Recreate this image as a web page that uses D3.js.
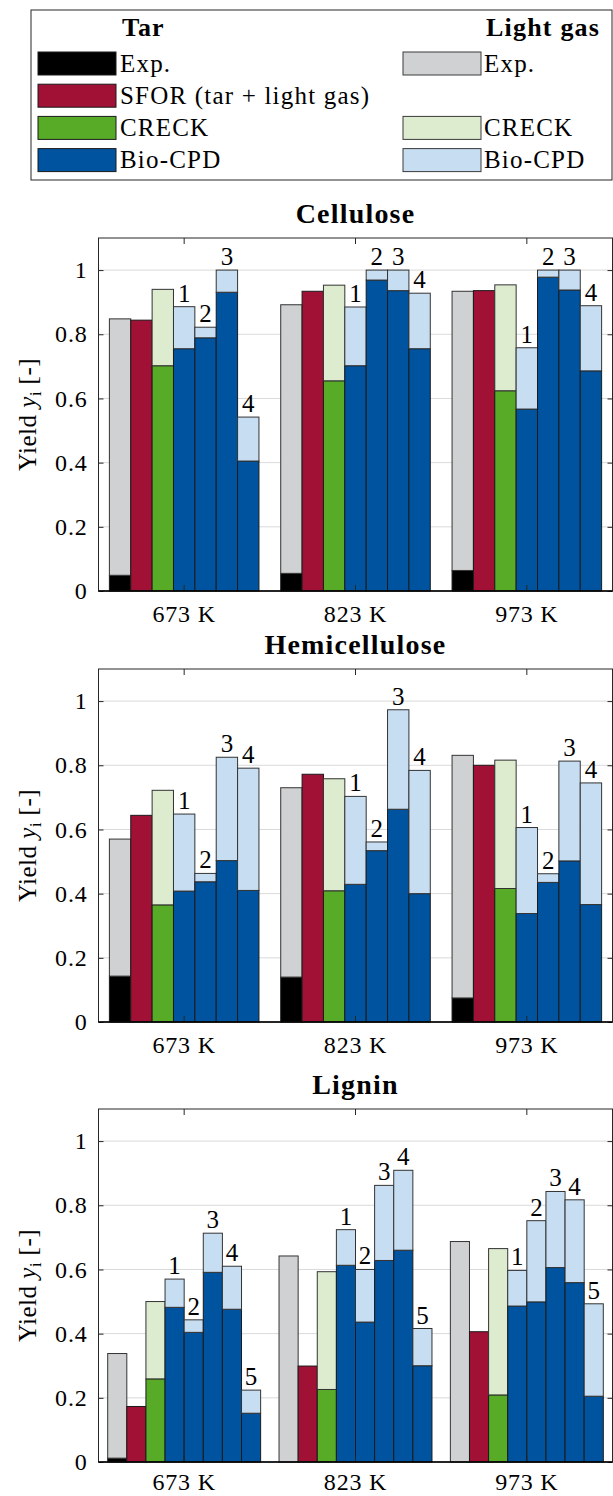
<!DOCTYPE html>
<html>
<head>
<meta charset="utf-8">
<script src="https://cdn.jsdelivr.net/npm/d3@7"></script>
<style>
  body { margin: 0; background: #fff; }
  svg { display: block; }
  text { font-family: "Liberation Serif", serif; fill: #000; }
</style>
</head>
<body>
<div id="chart"></div>
<script>
// categories / ticks
const temps = ["673 K", "823 K", "973 K"];
const yTicks = [0, 0.2, 0.4, 0.6, 0.8, 1];

// Cellulose
const celExpTar = [0.049, 0.055, 0.064];
const celExpGas = [0.799, 0.837, 0.870];
const celSfor = [0.844, 0.934, 0.936];
const celCreckTar = [0.702, 0.655, 0.624];
const celCreckGas = [0.238, 0.298, 0.330];
const celBioTar = [[0.755, 0.702, 0.567], [0.789, 0.969, 0.978], [0.931, 0.936, 0.938], [0.405, 0.755, 0.686]];
const celBioGas = [[0.131, 0.183, 0.191], [0.033, 0.031, 0.022], [0.069, 0.064, 0.062], [0.137, 0.173, 0.203]];

// Hemicellulose
const hemExpTar = [0.143, 0.140, 0.075];
const hemExpGas = [0.427, 0.590, 0.756];
const hemSfor = [0.644, 0.772, 0.800];
const hemCreckTar = [0.365, 0.409, 0.416];
const hemCreckGas = [0.357, 0.349, 0.400];
const hemBioTar = [[0.408, 0.429, 0.338], [0.437, 0.534, 0.435], [0.503, 0.663, 0.502], [0.410, 0.400, 0.366]];
const hemBioGas = [[0.240, 0.274, 0.268], [0.026, 0.027, 0.027], [0.322, 0.310, 0.311], [0.381, 0.384, 0.379]];

// Lignin
const ligExpTar = [0.012, 0, 0];
const ligExpGas = [0.326, 0.642, 0.687];
const ligSfor = [0.173, 0.299, 0.406];
const ligCreckTar = [0.259, 0.226, 0.209];
const ligCreckGas = [0.241, 0.367, 0.456];
const ligBioTar = [[0.482, 0.613, 0.486], [0.404, 0.436, 0.499], [0.591, 0.628, 0.606], [0.476, 0.660, 0.559], [0.152, 0.300, 0.205]];
const ligBioGas = [[0.088, 0.111, 0.111], [0.039, 0.164, 0.253], [0.122, 0.234, 0.237], [0.134, 0.249, 0.258], [0.072, 0.116, 0.288]];

// colours (tar = dark, light gas = light)
const col = {
  exp:   ["#000000", "#cfd1d2"],
  sfor:  ["#a11035", "#a11035"],
  creck: ["#57ab27", "#ddebce"],
  bio:   ["#00549f", "#c7ddf2"]
};

const W = 613, H = 1496;
const left = 98.5, right = 612.5, plotH = 353;
const fs = 24;   // tick / label size

const svg = d3.select("#chart").append("svg")
  .attr("width", W).attr("height", H);

// legend
const leg = svg.append("g");
leg.append("rect").attr("x", 31).attr("y", 10).attr("width", 581).attr("height", 170)
  .attr("fill", "none").attr("stroke", "#262626").attr("stroke-width", 1);
leg.append("text").attr("x", 122).attr("y", 36).attr("font-size", 26).attr("font-weight", "bold")
  .attr("letter-spacing", 1).text("Tar");
leg.append("text").attr("x", 486).attr("y", 36).attr("font-size", 26).attr("font-weight", "bold")
  .attr("letter-spacing", 1.2).text("Light gas");
const legRows = [
  { name: "Exp.", c: col.exp, gas: true },
  { name: "SFOR (tar + light gas)", c: col.sfor, gas: false },
  { name: "CRECK", c: col.creck, gas: true },
  { name: "Bio-CPD", c: col.bio, gas: true }
];
legRows.forEach((r, i) => {
  const cy = 63.5 + i * 32.2;
  leg.append("rect").attr("x", 38).attr("y", cy - 11.5).attr("width", 78).attr("height", 23)
    .attr("fill", r.c[0]).attr("stroke", "#1a1a1a");
  leg.append("text").attr("x", 120).attr("y", cy + 8).attr("font-size", 25)
    .attr("letter-spacing", 1.2).text(r.name);
  if (r.gas) {
    leg.append("rect").attr("x", 403).attr("y", cy - 11.5).attr("width", 78).attr("height", 23)
      .attr("fill", r.c[1]).attr("stroke", "#3a3a3a");
    leg.append("text").attr("x", 484).attr("y", cy + 8).attr("font-size", 25)
      .attr("letter-spacing", 1.2).text(r.name);
  }
});

function buildGroups(expTar, expGas, sfor, creckTar, creckGas, bioTar, bioGas) {
  return temps.map((t, k) => {
    const bars = [
      { kind: "exp", tar: expTar[k], gas: expGas[k] },
      { kind: "sfor", tar: sfor[k], gas: 0 },
      { kind: "creck", tar: creckTar[k], gas: creckGas[k] }
    ];
    bioTar.forEach((run, j) => bars.push({ kind: "bio", tar: run[k], gas: bioGas[j][k], label: j + 1 }));
    return { temp: t, bars: bars };
  });
}

const panels = [
  { title: "Cellulose", bottom: 591, groups: buildGroups(celExpTar, celExpGas, celSfor, celCreckTar, celCreckGas, celBioTar, celBioGas) },
  { title: "Hemicellulose", bottom: 1022, groups: buildGroups(hemExpTar, hemExpGas, hemSfor, hemCreckTar, hemCreckGas, hemBioTar, hemBioGas) },
  { title: "Lignin", bottom: 1462, groups: buildGroups(ligExpTar, ligExpGas, ligSfor, ligCreckTar, ligCreckGas, ligBioTar, ligBioGas) }
];

panels.forEach((p, pi) => {
  const top = p.bottom - plotH;
  const n = p.groups[0].bars.length;
  const span = 1.06 * n / (n + 1.5);

  const x0 = d3.scaleBand().domain(temps).range([left, right])
    .paddingInner(1 - span).paddingOuter((1 - span) / 2);
  const x1 = d3.scaleBand().domain(d3.range(n)).range([0, x0.bandwidth()]);
  const y = d3.scaleLinear().domain([0, 1.1]).range([p.bottom, top]);

  const g = svg.append("g");

  // title
  g.append("text").attr("x", (left + right) / 2).attr("y", top - 15)
    .attr("text-anchor", "middle").attr("font-size", 28).attr("font-weight", "bold")
    .attr("letter-spacing", 1.2).text(p.title);

  // grid
  g.append("g").selectAll("line").data(yTicks.slice(1)).enter().append("line")
    .attr("x1", left).attr("x2", right)
    .attr("y1", d => y(d)).attr("y2", d => y(d))
    .attr("stroke", "#dadada").attr("stroke-width", 1);

  // bars
  const grp = g.append("g").selectAll("g").data(p.groups).enter().append("g")
    .attr("transform", d => `translate(${x0(d.temp)},0)`);

  grp.each(function (gd) {
    const sel = d3.select(this);
    gd.bars.forEach((b, j) => {
      const bx = x1(j), bw = x1.bandwidth();
      const c = col[b.kind];
      if (b.tar > 0) {
        sel.append("rect").attr("x", bx).attr("width", bw)
          .attr("y", y(b.tar)).attr("height", y(0) - y(b.tar))
          .attr("fill", c[0]).attr("stroke", "#1a1a1a").attr("stroke-width", 1);
      }
      if (b.gas > 0) {
        sel.append("rect").attr("x", bx).attr("width", bw)
          .attr("y", y(b.tar + b.gas)).attr("height", y(b.tar) - y(b.tar + b.gas))
          .attr("fill", c[1]).attr("stroke", "#333").attr("stroke-width", 1);
      }
      if (b.label) {
        sel.append("text").attr("x", bx + bw / 2).attr("y", y(b.tar + b.gas) - 5)
          .attr("text-anchor", "middle").attr("font-size", 25).text(b.label);
      }
    });
  });

  // axes
  const fmt = d => String(d);
  const ax = g.append("g");
  ax.append("g").attr("transform", `translate(${left},0)`)
    .call(d3.axisLeft(y).tickValues(yTicks).tickSize(-5).tickPadding(11).tickFormat(fmt));
  ax.append("g").attr("transform", `translate(${right},0)`)
    .call(d3.axisRight(y).tickValues(yTicks).tickSize(-5).tickFormat(""));
  ax.append("g").attr("transform", `translate(0,${top})`)
    .call(d3.axisTop(x0).tickSize(-6).tickFormat(""));
  ax.append("g").attr("transform", `translate(0,${p.bottom})`)
    .call(d3.axisBottom(x0).tickSize(-6).tickPadding(pi === 2 ? 11 : 14));
  ax.selectAll(".domain").remove();
  ax.selectAll(".tick line").attr("stroke", "#262626");
  ax.selectAll("text").attr("font-family", "Liberation Serif, serif").attr("fill", "#000")
    .attr("font-size", fs).attr("letter-spacing", 0.8);

  // box
  g.append("rect").attr("x", left).attr("y", top).attr("width", right - left).attr("height", plotH)
    .attr("fill", "none").attr("stroke", "#262626").attr("stroke-width", 1);
  g.append("line").attr("x1", left).attr("x2", right).attr("y1", p.bottom).attr("y2", p.bottom)
    .attr("stroke", "#000").attr("stroke-width", 1.6);

  // y label
  const yl = g.append("text").attr("transform", `translate(36,${(top + p.bottom) / 2}) rotate(-90)`)
    .attr("text-anchor", "middle").attr("font-size", 25).attr("letter-spacing", 0.5);
  yl.append("tspan").text("Yield ");
  yl.append("tspan").attr("font-style", "italic").text("y");
  yl.append("tspan").attr("font-size", 16).attr("dy", 5).text("i");
  yl.append("tspan").attr("dy", -5).text(" [-]");
});
</script>
</body>
</html>
